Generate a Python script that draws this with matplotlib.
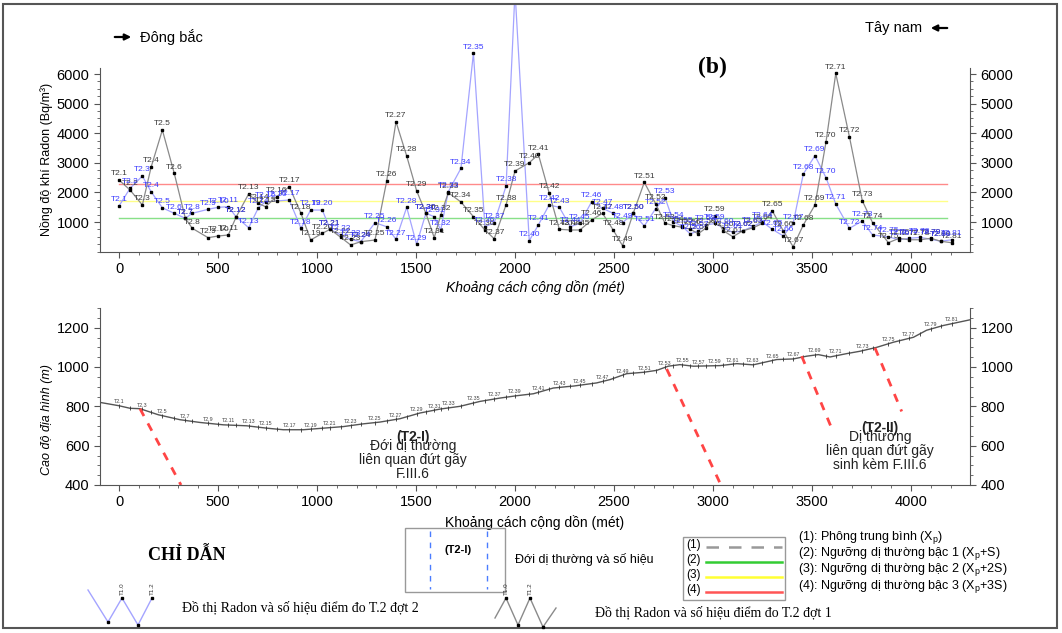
import numpy as np
import matplotlib
matplotlib.use("Agg")
import matplotlib.pyplot as plt
from matplotlib.lines import Line2D
from matplotlib.patches import Rectangle, FancyArrowPatch
from matplotlib.ticker import MultipleLocator, FixedLocator

plt.rcParams['font.family'] = ['Liberation Sans', 'DejaVu Sans']

W, H = 1062, 633

# station numbers and cumulative distance along profile T2 (m)
stations = list(range(1, 82))
distance = [0, 56, 118, 162, 219, 279, 335, 370, 450, 501,
            552, 591, 655, 704, 740, 796, 860, 919, 968, 1027,
            1066, 1120, 1170, 1221, 1293, 1352, 1399, 1453, 1503, 1550,
            1592, 1625, 1663, 1727, 1790, 1848, 1895, 1955, 2000, 2072,
            2118, 2172, 2224, 2280, 2328, 2387, 2442, 2496, 2543, 2597,
            2653, 2710, 2758, 2800, 2845, 2885, 2925, 2965, 3010, 3052,
            3100, 3150, 3200, 3250, 3300, 3355, 3405, 3456, 3515, 3571,
            3620, 3689, 3754, 3806, 3886, 3940, 3990, 4045, 4100, 4150, 4205]

# Radon concentration (Bq/m3), survey 1 (black) and survey 2 (blue)
radon_dot1 = [2420, 2080, 1575, 2850, 4108, 2645, 1125, 787, 470, 527,
              561, 1160, 1950, 1630, 1517, 1855, 2193, 1294, 392, 618,
              753, 483, 223, 334, 392, 2385, 4389, 3230, 2057, 1294,
              470, 1236, 1990, 1676, 1180, 730, 436, 1585, 2723, 3003,
              3287, 1990, 753, 730, 730, 1067, 1294, 730, 200, 1294,
              2341, 1620, 956, 880, 820, 760, 600, 800, 1200, 706,
              503, 700, 800, 950, 1372, 700, 165, 899, 1574, 3713,
              6020, 3882, 1720, 976, 300, 450, 400, 400, 450, 350, 300]
radon_dot2 = [1540, 2140, 2554, 2024, 1480, 1294, 1125, 1294, 1429, 1497,
              1517, 1180, 807, 1483, 1686, 1710, 1743, 787, 1405, 1405,
              753, 561, 415, 334, 976, 841, 415, 1497, 247, 1294,
              1180, 730, 2024, 2814, 6700, 841, 976, 2216, 8800, 370,
              899, 1574, 1497, 841, 956, 1686, 1463, 1294, 976, 1294,
              865, 1450, 1820, 1010, 850, 600, 700, 900, 950, 800,
              650, 700, 850, 1000, 750, 530, 956, 2622, 3240, 2497,
              1608, 787, 1034, 561, 500, 400, 450, 480, 420, 350, 400]

# anomaly thresholds (Bq/m3)
thr_level1 = 1150
thr_level2 = 1720
thr_level3 = 2300

# terrain profile
terrain_x = [-96, 0, 56, 106, 199, 308, 409, 527, 645, 746, 830, 931, 1032,
             1133, 1234, 1318, 1419, 1520, 1621, 1722, 1823, 1924, 2009, 2093,
             2193, 2261, 2295, 2412, 2480, 2564, 2648, 2716, 2774, 2833, 2901,
             3035, 3120, 3203, 3322, 3406, 3473, 3532, 3591, 3675, 3742, 3827,
             3911, 4012, 4079, 4163, 4298]
terrain_z = [820, 803, 790, 788, 757, 732, 718, 706, 701, 689, 681, 681, 689,
             697, 711, 720, 737, 766, 786, 800, 825, 842, 854, 864,
             893, 900, 903, 919, 936, 966, 973, 983, 1004, 1012, 1004,
             1007, 1017, 1011, 1038, 1041, 1055, 1063, 1051, 1068, 1080, 1100,
             1126, 1151, 1187, 1211, 1240]

# interpreted faults (dashed red)
fault_x0 = [106, 2766, 3448, 3818]
fault_z0 = [788, 990, 1055, 1097]
fault_x1 = [313, 3040, 3599, 3953]
fault_z1 = [400, 400, 689, 774]


def fx(px):
    return px / W


def fy(py):
    return 1 - py / H


fig = plt.figure(figsize=(W / 100, H / 100), dpi=100)

# ---------------- top panel: radon ----------------
ax = fig.add_axes([fx(100), fy(251.6), fx(870), 248.6 / H])
ax.set_xlim(-96, 4298)
ax.set_ylim(0, 8400)

ax.plot(distance, radon_dot1, color='#8a8a8a', lw=0.9, marker='s', ms=2,
        mfc='black', mec='black', zorder=3)
ax.plot(distance, radon_dot2, color='#a4a4ff', lw=0.9, marker='s', ms=2,
        mfc='black', mec='black', zorder=2)
for x, v, s in zip(distance, radon_dot1, stations):
    ax.annotate(f'T2.{s}', (x, v), xytext=(0, 2), textcoords='offset points',
                ha='center', va='bottom', fontsize=6, color='#3a3a3a', zorder=4)
for x, v, s in zip(distance, radon_dot2, stations):
    ax.annotate(f'T2.{s}', (x, v), xytext=(0, 2), textcoords='offset points',
                ha='center', va='bottom', fontsize=6, color='#3c3cff', zorder=4,
                annotation_clip=True)

x_end = distance[-1] - 25
ax.plot([0, x_end], [thr_level1] * 2, color='#88e088', lw=1, zorder=1)
ax.plot([0, x_end], [thr_level2] * 2, color='#ffff88', lw=1, zorder=1)
ax.plot([0, x_end], [thr_level3] * 2, color='#ff8a8a', lw=1, zorder=1)

ax.spines['top'].set_visible(False)
ax.spines['left'].set_bounds(0, 6200)
ax.spines['right'].set_bounds(0, 6200)
for sp in ax.spines.values():
    sp.set_color('#555555')
ax.set_yticks([1000, 2000, 3000, 4000, 5000, 6000])
ax.yaxis.set_minor_locator(FixedLocator(np.arange(0, 6200, 250)))
ax.set_xticks(range(0, 4001, 500))
ax.xaxis.set_minor_locator(MultipleLocator(100))
ax.tick_params(which='both', direction='out', color='#555555', labelsize=10.5,
               right=True, labelright=True)
ax.tick_params(which='major', length=4)
ax.tick_params(which='minor', length=2.5)
ax.set_xlabel('Khoảng cách cộng dồn (mét)', fontsize=10, style='italic', labelpad=3)
ax.set_ylabel('Nồng độ khí Radon (Bq/m³)', fontsize=9)
ax.yaxis.set_label_coords(-0.054, 0.37)

# ---------------- bottom panel: terrain ----------------
ax2 = fig.add_axes([fx(100), fy(485), fx(870), 177 / H])
ax2.set_xlim(-96, 4298)
ax2.set_ylim(400, 1300)
ax2.plot(terrain_x, terrain_z, color='#555555', lw=1)
st_z = np.interp(distance, terrain_x, terrain_z)
ax2.plot(distance, st_z, ls='none', marker='|', ms=2.5, mew=0.6, color='#333333')
for x, z, s in zip(distance, st_z, stations):
    if s % 2 == 1:
        ax2.text(x, z + 8, f'T2.{s}', fontsize=3.8, ha='center', va='bottom',
                 color='#444444')
for a, b, c, d in zip(fault_x0, fault_z0, fault_x1, fault_z1):
    ax2.plot([a, c], [b, d], color='#ff4545', lw=2, ls=(0, (3, 3)))

ax2.text(1485, 645, '(T2-I)', fontsize=10, fontweight='bold', ha='center',
         va='center', color='#222222')
ax2.text(1485, 525, 'Đới dị thường\nliên quan đứt gãy\nF.III.6', fontsize=10,
         ha='center', va='center', linespacing=1.0, color='#222222')
ax2.text(3843, 691, '(T2-II)', fontsize=10, fontweight='bold', ha='center',
         va='center', color='#222222')
ax2.text(3843, 575, 'Dị thường\nliên quan đứt gãy\nsinh kèm F.III.6',
         fontsize=10, ha='center', va='center', linespacing=1.0, color='#222222')

ax2.spines['top'].set_visible(False)
for sp in ax2.spines.values():
    sp.set_color('#555555')
ax2.set_yticks(range(400, 1201, 200))
ax2.yaxis.set_minor_locator(MultipleLocator(50))
ax2.set_xticks(range(0, 4001, 500))
ax2.xaxis.set_minor_locator(MultipleLocator(100))
ax2.tick_params(which='both', direction='out', color='#555555', labelsize=10.5,
                right=True, labelright=True)
ax2.tick_params(which='major', length=4)
ax2.tick_params(which='minor', length=2.5)
ax2.set_xlabel('Khoảng cách cộng dồn (mét)', fontsize=10, labelpad=4)
ax2.set_ylabel('Cao độ địa hình (m)', fontsize=9, style='italic')
ax2.yaxis.set_label_coords(-0.054, 0.37)

# ---------------- annotations ----------------
fig.add_artist(FancyArrowPatch((fx(112), fy(37)), (fx(134), fy(37)),
                               transform=fig.transFigure, arrowstyle='-|>',
                               mutation_scale=9, lw=1.6, color='black'))
fig.text(fx(140), fy(37), 'Đông bắc', fontsize=10.5, va='center', ha='left')
fig.add_artist(FancyArrowPatch((fx(950), fy(28)), (fx(928), fy(28)),
                               transform=fig.transFigure, arrowstyle='-|>',
                               mutation_scale=9, lw=1.6, color='black'))
fig.text(fx(922), fy(28), 'Tây nam', fontsize=10.5, va='center', ha='right')
fig.text(fx(712), fy(67), '(b)', fontsize=17, fontweight='bold',
         family='Liberation Serif', ha='center', va='center')

# ---------------- legend ----------------
fig.text(fx(148), fy(556), 'CHỈ DẪN', fontsize=13, fontweight='bold',
         family='Liberation Serif', ha='left', va='center')

fig.add_artist(Rectangle((fx(405), fy(592)), fx(100), 64 / H, fill=False,
                         ec='#999999', lw=1, transform=fig.transFigure))
for xl in (430, 487):
    fig.add_artist(Line2D([fx(xl)] * 2, [fy(531), fy(589)], color='#4a7cff',
                          lw=1, ls=(0, (4, 4)), transform=fig.transFigure))
fig.text(fx(458), fy(550), '(T2-I)', fontsize=8, fontweight='bold', ha='center',
         va='center')
fig.text(fx(515), fy(559), 'Đới dị thường và số hiệu', fontsize=9, ha='left',
         va='center')

fig.add_artist(Rectangle((fx(683), fy(600)), fx(102), 63 / H, fill=False,
                         ec='#999999', lw=1, transform=fig.transFigure))
leg_styles = [('#999999', (0, (5, 4))), ('#33cc33', '-'), ('#ffff33', '-'),
              ('#ff5555', '-')]
for i, (c, ls) in enumerate(leg_styles):
    yy = 545 + i * 15
    fig.text(fx(686), fy(yy), f'({i + 1})', fontsize=8.5, ha='left', va='center')
    fig.add_artist(Line2D([fx(706), fx(782)], [fy(yy + 2)] * 2, color=c, lw=1.8,
                          ls=ls, transform=fig.transFigure))

leg_text = ['(1): Phông trung bình (X$_\\mathregular{p}$)',
            '(2): Ngưỡng dị thường bậc 1 (X$_\\mathregular{p}$+S)',
            '(3): Ngưỡng dị thường bậc 2 (X$_\\mathregular{p}$+2S)',
            '(4): Ngưỡng dị thường bậc 3 (X$_\\mathregular{p}$+3S)']
for i, t in enumerate(leg_text):
    fig.text(fx(798), fy(537 + i * 16.5), t, fontsize=9, ha='left', va='center')

# zigzag icons
blue_icon_x = [88, 108, 122, 138, 152]
blue_icon_y = [590, 622, 598, 625, 598]
fig.add_artist(Line2D([fx(v) for v in blue_icon_x], [fy(v) for v in blue_icon_y],
                      color='#a4a4ff', lw=1, transform=fig.transFigure))
black_icon_x = [495, 506, 518, 530, 543, 556]
black_icon_y = [618, 598, 625, 598, 627, 608]
fig.add_artist(Line2D([fx(v) for v in black_icon_x], [fy(v) for v in black_icon_y],
                      color='#8a8a8a', lw=1, transform=fig.transFigure))
for ix, iy in [(108, 622), (138, 625), (518, 625), (543, 627),
               (122, 598), (152, 598), (506, 598), (530, 598)]:
    fig.add_artist(Line2D([fx(ix)], [fy(iy)], marker='s', ms=2, color='black',
                          transform=fig.transFigure))
for ix, lab in [(122, 'T1.0'), (152, 'T1.2'), (506, 'T1.0'), (530, 'T1.2')]:
    fig.text(fx(ix), fy(595), lab, fontsize=4.5, rotation=90, ha='center',
             va='bottom', color='#333333')
fig.text(fx(182), fy(608), 'Đồ thị Radon và số hiệu điểm đo T.2 đợt 2',
         fontsize=10, family='Liberation Serif', ha='left', va='center')
fig.text(fx(595), fy(613), 'Đồ thị Radon và số hiệu điểm đo T.2 đợt 1',
         fontsize=10, family='Liberation Serif', ha='left', va='center')

# outer frame
fig.add_artist(Rectangle((fx(3), fy(628)), fx(1054), 624 / H, fill=False,
                         ec='#555555', lw=1.5, transform=fig.transFigure))

fig.savefig('out.png', dpi=100)
